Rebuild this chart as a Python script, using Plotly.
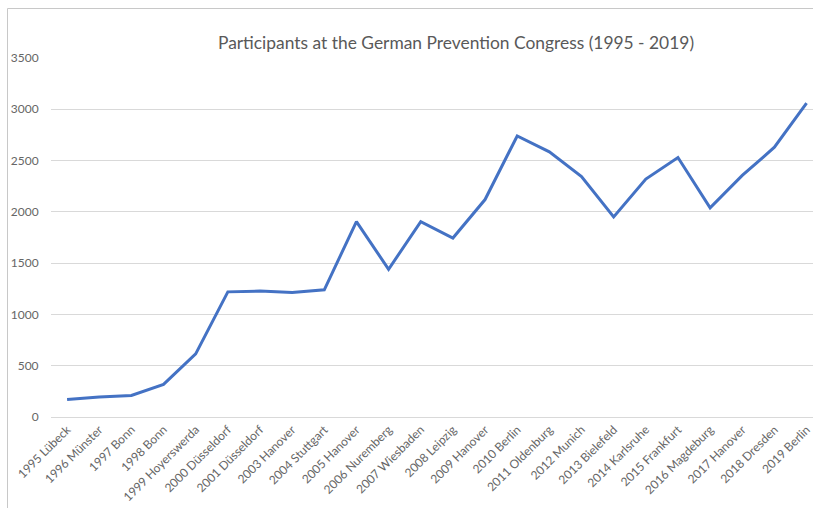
import plotly.graph_objects as go

categories = ["1995 Lübeck", "1996 Münster", "1997 Bonn", "1998 Bonn", "1999 Hoyerswerda",
              "2000 Düsseldorf", "2001 Düsseldorf", "2003 Hanover", "2004 Stuttgart",
              "2005 Hanover", "2006 Nuremberg", "2007 Wiesbaden", "2008 Leipzig",
              "2009 Hanover", "2010 Berlin", "2011 Oldenburg", "2012 Munich",
              "2013 Bielefeld", "2014 Karlsruhe", "2015 Frankfurt", "2016 Magdeburg",
              "2017 Hanover", "2018 Dresden", "2019 Berlin"]
participants = [170, 195, 210, 318, 615, 1220, 1228, 1215, 1240, 1905, 1440, 1905, 1745,
                2120, 2740, 2585, 2345, 1950, 2320, 2530, 2040, 2355, 2630, 3060]
y_ticks = [0, 500, 1000, 1500, 2000, 2500, 3000, 3500]

W, H = 813, 508
L, R, T, B = 51, 0, 58, 91
pw, ph = W - L - R, H - T - B

def px_x(p):
    return (p - L) / pw

def px_y(p):
    return (H - B - p) / ph

fig = go.Figure()
fig.add_trace(go.Scatter(
    x=list(range(len(categories))), y=participants, mode="lines",
    line=dict(color="#4472C4", width=3), hoverinfo="skip", showlegend=False))

grid = "#D9D9D9"
fig.update_layout(
    width=W, height=H,
    margin=dict(l=L, r=R, t=T, b=B),
    paper_bgcolor="white", plot_bgcolor="white",
    font=dict(family="Lato, Carlito, sans-serif", color="#595959", size=12),
    title=dict(text="Participants at the German Prevention Congress (1995 - 2019)",
               x=456 / W, xanchor="center", y=1 - 43 / H, yanchor="middle",
               font=dict(size=17.4, color="#595959", family="Lato, Carlito, sans-serif")),
    xaxis=dict(tickmode="array", tickvals=list(range(len(categories))), ticktext=categories,
               range=[-0.5, 23.2], tickangle=-45, showgrid=False, zeroline=False,
               showline=True, linecolor=grid, linewidth=1, ticks="",
               tickfont=dict(size=12, color="#666666")),
    yaxis=dict(range=[0, 3500], tickvals=y_ticks, showgrid=True, gridcolor=grid, gridwidth=1,
               zeroline=True, zerolinecolor=grid, zerolinewidth=1, showline=False,
               ticks="outside", ticklen=9, tickcolor="rgba(0,0,0,0)",
               tickfont=dict(size=12, color="#666666")),
    shapes=[
        dict(type="rect", xref="paper", yref="paper", layer="below",
             x0=px_x(7.5), x1=px_x(840), y0=px_y(540), y1=px_y(8.5),
             line=dict(color="#C8C8C8", width=1), fillcolor="rgba(0,0,0,0)"),
    ],
)

fig.write_html("out.html", post_script="document.body.style.margin='0';",
               config={"displayModeBar": False})
